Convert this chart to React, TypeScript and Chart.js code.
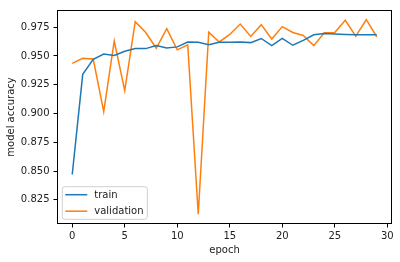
import React, { useEffect, useRef } from "react";
import { Chart, registerables } from "chart.js";

Chart.register(...registerables);

const epochs = Array.from({ length: 30 }, (_, i) => i);
const trainAcc = [
  0.847, 0.934, 0.947, 0.9516, 0.9504, 0.9541, 0.9564, 0.9564, 0.959, 0.957,
  0.9579, 0.9621, 0.962, 0.9598, 0.962, 0.962, 0.9622, 0.9616, 0.9652, 0.959,
  0.9652, 0.9593, 0.9635, 0.9684, 0.9695, 0.969, 0.9687, 0.9684, 0.9684, 0.9684,
];
const valAcc = [
  0.9436, 0.9479, 0.9473, 0.9016, 0.963, 0.9199, 0.9798, 0.9704, 0.9567, 0.9738,
  0.9553, 0.9596, 0.8124, 0.9707, 0.9622, 0.9687, 0.9778, 0.967, 0.9772, 0.9647,
  0.9755, 0.9704, 0.9678, 0.959, 0.9701, 0.9704, 0.981, 0.9673, 0.9815, 0.9667,
];
const yTicks = [0.825, 0.85, 0.875, 0.9, 0.925, 0.95, 0.975];
const xTicks = [0, 5, 10, 15, 20, 25, 30];
const seriesLabels = ["train", "validation"];
const seriesColors = ["#1f77b4", "#ff7f0e"];
const xTitle = "epoch";
const yTitle = "model accuracy";

const FONT = "'DejaVu Sans', sans-serif";

export default function App() {
  const ref = useRef<HTMLCanvasElement | null>(null);
  useEffect(() => {
    if (!ref.current) return;
    const all = [...trainAcc, ...valAcc];
    const yMinD = Math.min(...all), yMaxD = Math.max(...all);
    const yr = yMaxD - yMinD;
    const xMinD = epochs[0], xMaxD = epochs[epochs.length - 1];
    const xr = xMaxD - xMinD;

    const framePlugin = {
      id: "frame",
      afterDatasetsDraw(chart: any) {
        const { ctx, chartArea: a } = chart;
        ctx.save();
        ctx.strokeStyle = "#000";
        ctx.lineWidth = 1;
        ctx.strokeRect(Math.round(a.left) + 0.5, Math.round(a.top) + 0.5, Math.round(a.right - a.left) - 1, Math.round(a.bottom - a.top) - 1);
        // legend
        const lx = a.left + 5.3, ly = a.bottom - 37.3, lw = 85, lh = 32.6;
        ctx.beginPath();
        const r = 2.5;
        ctx.moveTo(lx + r, ly);
        ctx.lineTo(lx + lw - r, ly);
        ctx.quadraticCurveTo(lx + lw, ly, lx + lw, ly + r);
        ctx.lineTo(lx + lw, ly + lh - r);
        ctx.quadraticCurveTo(lx + lw, ly + lh, lx + lw - r, ly + lh);
        ctx.lineTo(lx + r, ly + lh);
        ctx.quadraticCurveTo(lx, ly + lh, lx, ly + lh - r);
        ctx.lineTo(lx, ly + r);
        ctx.quadraticCurveTo(lx, ly, lx + r, ly);
        ctx.closePath();
        ctx.fillStyle = "rgba(255,255,255,0.8)";
        ctx.fill();
        ctx.strokeStyle = "#d0d0d0";
        ctx.lineWidth = 1;
        ctx.stroke();
        chart.data.datasets.forEach((ds: any, i: number) => {
          const y = ly + 8 + i * 16.5;
          ctx.beginPath();
          ctx.strokeStyle = ds.borderColor;
          ctx.lineWidth = 1.5;
          ctx.moveTo(lx + 3, y);
          ctx.lineTo(lx + 25, y);
          ctx.stroke();
          ctx.fillStyle = "#222";
          ctx.font = `10px ${FONT}`;
          ctx.textBaseline = "middle";
          ctx.textAlign = "left";
          ctx.fillText(ds.label, lx + 32, y + 0.5);
        });
        ctx.restore();
      },
    };

    const chart = new Chart(ref.current, {
      type: "line",
      data: {
        datasets: [trainAcc, valAcc].map((vals, i) => ({
          label: seriesLabels[i],
          data: epochs.map((e, j) => ({ x: e, y: vals[j] })),
          borderColor: seriesColors[i],
          backgroundColor: seriesColors[i],
          borderWidth: 1.5,
          pointRadius: 0,
          tension: 0,
          fill: false,
        })),
      },
      options: {
        animation: false,
        responsive: false,
        devicePixelRatio: 1,
        layout: { padding: { top: 6, right: 8, left: 0, bottom: 0 } },
        plugins: { legend: { display: false }, tooltip: { enabled: false } },
        scales: {
          x: {
            type: "linear",
            min: xMinD - 0.05 * xr,
            max: xMaxD + 0.05 * xr,
            afterBuildTicks: (s: any) => {
              s.ticks = xTicks.map((v) => ({ value: v }));
            },
            afterFit: (s: any) => {
              s.height = 38;
            },
            grid: { drawOnChartArea: false, drawTicks: true, tickLength: 3.5, color: "#000" },
            border: { display: false },
            ticks: {
              color: "#222",
              font: { family: FONT, size: 10 },
              padding: 3,
              maxRotation: 0,
              autoSkip: false,
              callback: (v: any) => String(v),
            },
            title: {
              display: true,
              text: xTitle,
              color: "#222",
              font: { family: FONT, size: 10 },
              padding: { top: 0, bottom: 6 },
            },
          },
          y: {
            type: "linear",
            min: yMinD - 0.05 * yr,
            max: yMaxD + 0.05 * yr,
            afterBuildTicks: (s: any) => {
              s.ticks = yTicks.map((v) => ({ value: v }));
            },
            afterFit: (s: any) => {
              s.width = 57;
            },
            grid: { drawOnChartArea: false, drawTicks: true, tickLength: 3.5, color: "#000" },
            border: { display: false },
            ticks: {
              color: "#222",
              font: { family: FONT, size: 10 },
              padding: 4,
              autoSkip: false,
              callback: (v: any) => Number(v).toFixed(3),
            },
            title: {
              display: true,
              text: yTitle,
              color: "#222",
              font: { family: FONT, size: 10 },
              padding: { top: 5, bottom: 0 },
            },
          },
        },
      },
      plugins: [framePlugin],
    });
    return () => chart.destroy();
  }, []);
  return (
    <div style={{ position: "absolute", left: 0, top: 0, width: 400, height: 262, background: "#fff" }}>
      <canvas ref={ref} width={400} height={262} style={{ display: "block" }} />
    </div>
  );
}
